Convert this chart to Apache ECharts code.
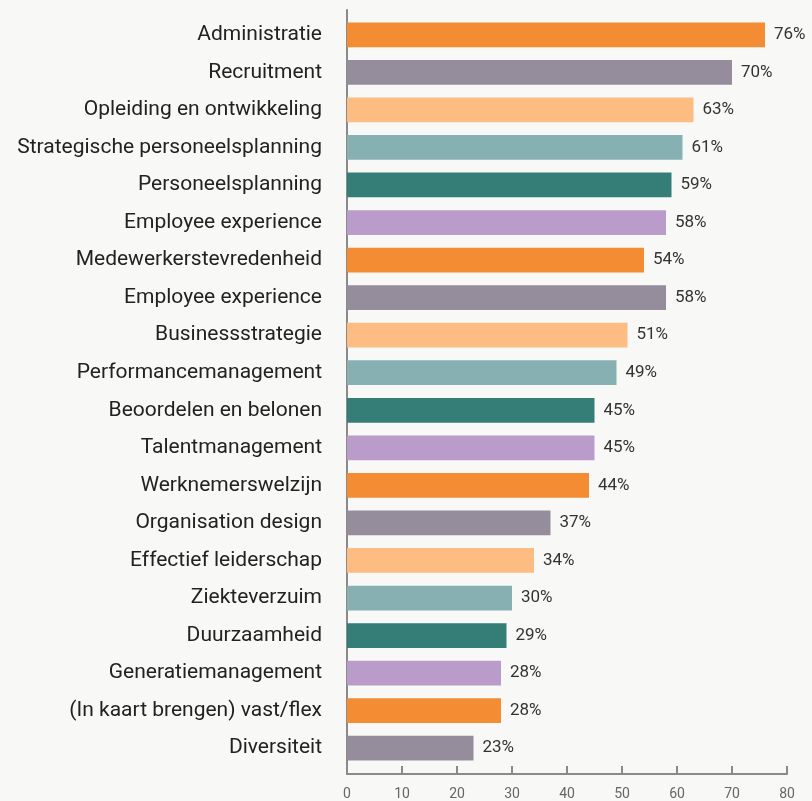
<!DOCTYPE html>
<html>
<head>
<meta charset="utf-8">
<script src="https://cdn.jsdelivr.net/npm/echarts@6/dist/echarts.min.js"></script>
<style>
  html, body { margin: 0; padding: 0; background: #f8f8f6; }
  #chart { width: 812px; height: 801px; }
</style>
</head>
<body>
<div id="chart"></div>
<script>
// categorieën (van boven naar beneden)
const categories = [
  'Administratie', 'Recruitment', 'Opleiding en ontwikkeling',
  'Strategische personeelsplanning', 'Personeelsplanning', 'Employee experience',
  'Medewerkerstevredenheid', 'Employee experience', 'Businessstrategie',
  'Performancemanagement', 'Beoordelen en belonen', 'Talentmanagement',
  'Werknemerswelzijn', 'Organisation design', 'Effectief leiderschap',
  'Ziekteverzuim', 'Duurzaamheid', 'Generatiemanagement',
  '(In kaart brengen) vast/flex', 'Diversiteit'
]
const values = [76, 70, 63, 61, 59, 58, 54, 58, 51, 49, 45, 45, 44, 37, 34, 30, 29, 28, 28, 23]
const palette = ['#f38c32', '#968d9c', '#fcbc82', '#86b0b1', '#347e77', '#ba9ccb']
const xTicks = [0, 10, 20, 30, 40, 50, 60, 70, 80]

const chart = echarts.init(document.getElementById('chart'))

const option = {
  backgroundColor: '#f8f8f6',
  animation: false,
  grid: [
    // bars
    { left: 347, right: 25, top: 16, bottom: 34 },
    // axis frame (loopt iets verder door dan de balken)
    { left: 347, right: 25, top: 10, bottom: 26 }
  ],
  xAxis: [
    { gridIndex: 0, type: 'value', min: 0, max: 80, show: false },
    {
      gridIndex: 1,
      type: 'value',
      min: xTicks[0],
      max: xTicks[xTicks.length - 1],
      interval: 10,
      axisLine: { show: true, lineStyle: { color: '#8a8a8a', width: 2 } },
      axisTick: { show: true, inside: true, length: 8, lineStyle: { color: '#8a8a8a', width: 2 } },
      axisLabel: { color: '#666', fontSize: 14, fontFamily: 'Roboto', margin: 13 },
      splitLine: { show: false }
    }
  ],
  yAxis: [
    {
      gridIndex: 0,
      type: 'category',
      data: categories,
      inverse: true,
      axisLine: { show: false },
      axisTick: { show: false },
      axisLabel: { color: '#222', fontSize: 21, fontFamily: 'Roboto', margin: 25 }
    },
    {
      gridIndex: 1,
      type: 'category',
      data: categories,
      inverse: true,
      axisLine: { show: true, lineStyle: { color: '#8a8a8a', width: 2 } },
      axisTick: { show: false },
      axisLabel: { show: false }
    }
  ],
  series: [
    {
      type: 'bar',
      xAxisIndex: 0,
      yAxisIndex: 0,
      barCategoryGap: '34%',
      data: values.map((v, i) => ({
        value: v,
        itemStyle: { color: palette[i % palette.length] }
      })),
      label: {
        show: true,
        position: 'right',
        distance: 9,
        formatter: '{c}%',
        color: '#333',
        fontSize: 17,
        fontFamily: 'Roboto'
      }
    }
  ]
}

chart.setOption(option)
</script>
</body>
</html>
